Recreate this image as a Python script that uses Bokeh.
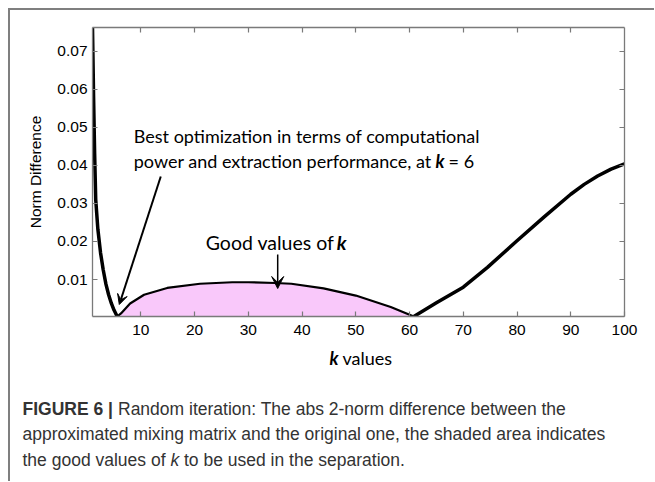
from bokeh.plotting import figure
from bokeh.layouts import column
from bokeh.models import Range1d, FixedTicker, LinearAxis, Label, Arrow, VeeHead, PrintfTickFormatter
from bokeh.embed import file_html
from bokeh.resources import INLINE

# ---- data ----
k_left = [1, 1.2, 1.4, 1.6, 2, 2.5, 3, 3.5, 4, 4.5, 5, 5.6]
norm_left = [0.0762, 0.058, 0.043, 0.031, 0.0232, 0.0170, 0.0125, 0.0088, 0.0060, 0.0038, 0.0020, 0.0003]

k_good = [5.6, 6.3, 8, 10.6, 14.9, 21, 27, 30, 35, 38, 44, 50, 56.5, 60.8]
norm_good = [0.0003, 0.0011, 0.0037, 0.0060, 0.0078, 0.0089, 0.0093, 0.0093, 0.0091, 0.0089, 0.0077, 0.0058, 0.0028, 0.0003]

k_right = [60.8, 65, 70, 74.5, 80, 85, 90, 92.5, 95, 97.5, 100]
norm_right = [0.0003, 0.0039, 0.0080, 0.0132, 0.0202, 0.0264, 0.0324, 0.0350, 0.0372, 0.0390, 0.0404]

x_ticks = [10, 20, 30, 40, 50, 60, 70, 80, 90, 100]
y_ticks = [0.01, 0.02, 0.03, 0.04, 0.05, 0.06, 0.07]
X0, X1 = 1, 100
Y0, Y1 = 0.0003, 0.0762

# ---- layout (page pixels) ----
ORG = 10                      # canvas origin on the page (8px margin + 2px frame line)
W = 644
H_PLOT = 334
H_CAP = 137
FL, FR, FT, FB = 91.7, 624.0, 27.0, 316.0


def dx(px):
    return X0 + (px - FL) * (X1 - X0) / (FR - FL)


def dy(py):
    return Y0 + (FB - py) * (Y1 - Y0) / (FB - FT)


AX = "#7a7a7a"
TICK_FONT = "Liberation Sans"
ANN_FONT = "Lato"

p = figure(width=W, height=H_PLOT, output_backend="svg", toolbar_location=None,
           x_range=Range1d(X0, X1), y_range=Range1d(Y0, Y1),
           min_border_left=round(FL - ORG), min_border_right=round(ORG + W - FR),
           min_border_top=round(FT - ORG), min_border_bottom=round(ORG + H_PLOT - FB))
p.frame_align = False
p.grid.visible = False
p.outline_line_color = None
p.background_fill_color = "white"
p.border_fill_color = "white"


def style_axis(ax, ticks, labels=True):
    ax.ticker = FixedTicker(ticks=ticks)
    ax.axis_line_color = AX
    ax.axis_line_width = 1.3
    ax.major_tick_line_color = AX
    ax.major_tick_line_width = 1.2
    ax.major_tick_in = 5
    ax.major_tick_out = 0
    ax.minor_tick_line_color = None
    if labels:
        ax.major_label_text_font = TICK_FONT
        ax.major_label_text_font_size = "15.5px"
        ax.major_label_text_color = "black"
    else:
        ax.major_label_text_font_size = "0px"
        ax.major_label_text_alpha = 0


xb = p.xaxis[0]
yl = p.yaxis[0]
style_axis(xb, x_ticks)
style_axis(yl, y_ticks)
xb.major_label_standoff = 8
yl.major_label_standoff = 5
yl.formatter = PrintfTickFormatter(format="%.2f")
yl.axis_label = "Norm Difference"
yl.axis_label_text_font = TICK_FONT
yl.axis_label_text_font_size = "15.5px"
yl.axis_label_text_font_style = "normal"
yl.axis_label_text_color = "black"
yl.axis_label_standoff = 10

top = LinearAxis()
style_axis(top, x_ticks[:-1], labels=False)
p.add_layout(top, "above")
right = LinearAxis()
style_axis(right, y_ticks, labels=False)
p.add_layout(right, "right")

# ---- glyphs ----
p.varea(x=k_good, y1=Y0, y2=norm_good, fill_color="#f9c8fa")
p.line(k_left, norm_left, line_color="black", line_width=3.5, line_join="round")
p.line(k_good, norm_good, line_color="black", line_width=2.2, line_join="round")
p.line(k_right, norm_right, line_color="black", line_width=3.5, line_join="round")


# ---- annotations inside the plot ----
def lab(fig, text, x, y, font=ANN_FONT, size="18px", style="normal", color="black"):
    fig.add_layout(Label(x=x, y=y, text=text, text_font=font, text_font_size=size,
                         text_font_style=style, text_color=color, text_baseline="middle",
                         text_align="left"))


lab(p, "Best optimization in terms of computational", dx(133), dy(135))
lab(p, "power and extraction performance, at", dx(133), dy(160))
lab(p, "k", dx(435), dy(160), style="bold italic")
lab(p, "= 6", dx(448), dy(160))
lab(p, "Good values of", dx(205), dy(242), size="19.5px")
lab(p, "k", dx(336), dy(242), size="19.5px", style="bold italic")

p.add_layout(Arrow(end=VeeHead(size=10, fill_color="black", line_color="black", line_width=1),
                   x_start=dx(160), y_start=dy(176), x_end=dx(118.5), y_end=dy(304),
                   line_color="black", line_width=2))
p.add_layout(Arrow(end=VeeHead(size=12, fill_color="black", line_color="black", line_width=1),
                   x_start=dx(277), y_start=dy(254), x_end=dx(277), y_end=dy(288),
                   line_color="black", line_width=1.5))

# ---- x label and caption panel (page pixel coordinates) ----
cap_top = ORG + H_PLOT
cap = figure(width=W, height=H_CAP, output_backend="svg", toolbar_location=None,
             x_range=Range1d(ORG, ORG + W), y_range=Range1d(cap_top + H_CAP, cap_top),
             min_border=0, x_axis_type=None, y_axis_type=None)
cap.frame_align = False
cap.grid.visible = False
cap.outline_line_color = None
cap.background_fill_color = "white"
cap.border_fill_color = "white"

lab(cap, "k", 329, 357, style="bold italic")
lab(cap, "values", 342, 357)

CAP = "#333333"
CS = "17.5px"
lab(cap, "FIGURE 6 |", 22, 408, font=TICK_FONT, size=CS, style="bold", color=CAP)
lab(cap, "Random iteration: The abs 2-norm difference between the", 117.5, 408,
    font=TICK_FONT, size=CS, color=CAP)
lab(cap, "approximated mixing matrix and the original one, the shaded area indicates", 22, 433.5,
    font=TICK_FONT, size=CS, color=CAP)
lab(cap, "the good values of", 22, 459, font=TICK_FONT, size=CS, color=CAP)
lab(cap, "k", 170, 459, font=TICK_FONT, size=CS, style="italic", color=CAP)
lab(cap, "to be used in the separation.", 183.5, 459, font=TICK_FONT, size=CS, color=CAP)

page = column(p, cap, spacing=0)
page.styles = {"margin-left": "8px", "margin-top": "8px",
               "border-left": "2px solid #7f7f7f", "border-top": "2px solid #7f7f7f"}

open("out.html", "w").write(file_html(page, INLINE))
